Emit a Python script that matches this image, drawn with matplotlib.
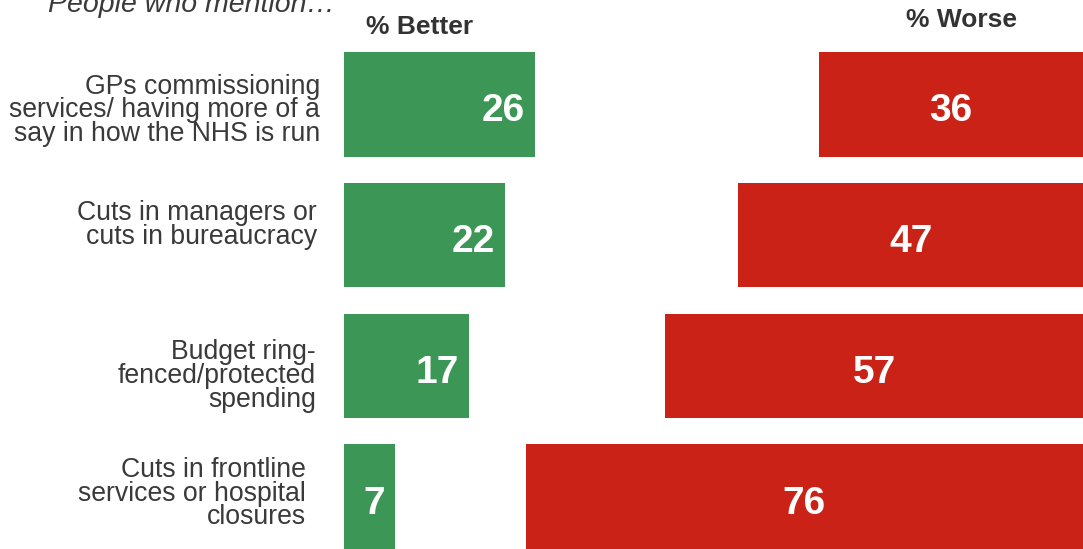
import matplotlib
matplotlib.use("Agg")
import matplotlib.pyplot as plt
import numpy as np

plt.rcParams["font.family"] = ["Liberation Sans", "DejaVu Sans"]

CATEGORIES = [
    "GPs commissioning\nservices/ having more of a\nsay in how the NHS is run",
    "Cuts in managers or\ncuts in bureaucracy",
    "Budget ring-\nfenced/protected\nspending",
    "Cuts in frontline\nservices or hospital\nclosures",
]
BETTER = [26, 22, 17, 7]
WORSE = [36, 47, 57, 76]

GREEN = "#3c9757"
RED = "#ca2216"
TEXT = "#3a3a3a"
XMAX = 100.8  # worse bars hang off the right end of the axis

# per-row nudges (pixels) for the wrapped category labels
LABEL_DX = [24, 27, 28, 38]
LABEL_DY = [-6, 10, -10, 3]

W, H = 1083, 549
fig = plt.figure(figsize=(W / 100, H / 100), dpi=100)
ax = fig.add_axes([344 / W, 0, 739 / W, 497 / H])

y = np.arange(len(CATEGORIES))
ax.barh(y, BETTER, height=0.8, color=GREEN)
ax.barh(y, WORSE, left=[XMAX - v for v in WORSE], height=0.8, color=RED)

for i, (b, w) in enumerate(zip(BETTER, WORSE)):
    ax.annotate(str(b), xy=(b, i), xytext=(-10, -17), textcoords="offset pixels",
                ha="right", va="baseline", color="white", fontsize=28, fontweight="bold")
    ax.annotate(str(w), xy=(XMAX - w / 2, i), xytext=(0, -17), textcoords="offset pixels",
                ha="center", va="baseline", color="white", fontsize=28, fontweight="bold")
    ax.annotate(CATEGORIES[i], xy=(0, i), xycoords=ax.get_yaxis_transform(),
                xytext=(-LABEL_DX[i], LABEL_DY[i]), textcoords="offset pixels",
                ha="right", va="center", multialignment="right",
                fontsize=19.2, color=TEXT, linespacing=0.89, annotation_clip=False)

ax.set_xlim(0, XMAX)
ax.set_ylim(3.4, -0.4)
ax.axis("off")

fig.text(420 / W, 1 - 27 / H, "% Better", ha="center", va="center",
         fontsize=19, fontweight="bold", color="#333333")
fig.text(961 / W, 1 - 20 / H, "% Worse", ha="center", va="center",
         fontsize=19, fontweight="bold", color="#333333")
fig.text(48 / W, 1 - 12 / H, "People who mention…", ha="left", va="baseline",
         fontsize=20.5, style="italic", color=TEXT)

fig.savefig("out.png", dpi=100)
